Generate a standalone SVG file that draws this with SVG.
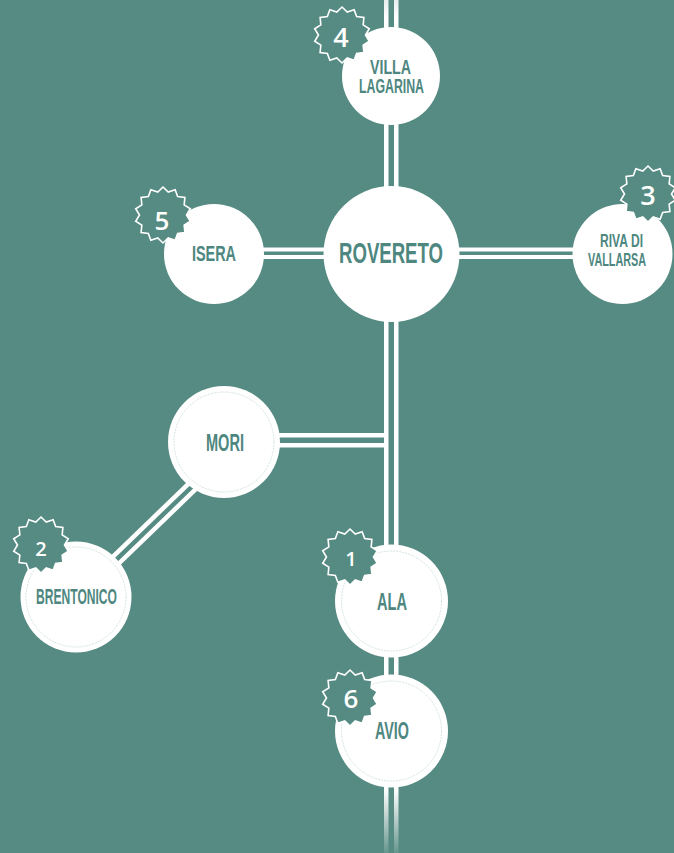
<svg xmlns="http://www.w3.org/2000/svg" width="674" height="853" viewBox="0 0 674 853">
<defs>
<linearGradient id="fade" gradientUnits="userSpaceOnUse" x1="0" y1="0" x2="0" y2="853">
<stop offset="0" stop-color="#fff" stop-opacity="0.85"/>
<stop offset="0.02" stop-color="#fff" stop-opacity="1"/>
<stop offset="0.925" stop-color="#fff" stop-opacity="1"/>
<stop offset="1" stop-color="#fff" stop-opacity="0.1"/>
</linearGradient>
<path id="star" d="M0,-28 L5.23,-22.91 L12.15,-25.23 L14.65,-18.37 L21.89,-17.46 L21.17,-10.2 L27.3,-6.23 L23.5,0 L27.3,6.23 L21.17,10.2 L21.89,17.46 L14.65,18.37 L12.15,25.23 L5.23,22.91 L0,28 L-5.23,22.91 L-12.15,25.23 L-14.65,18.37 L-21.89,17.46 L-21.17,10.2 L-27.3,6.23 L-23.5,0 L-27.3,-6.23 L-21.17,-10.2 L-21.89,-17.46 L-14.65,-18.37 L-12.15,-25.23 L-5.23,-22.91 Z"/>
</defs>
<style>
.bg{fill:#558b82}
.node{fill:#fff}
.inner{fill:none;stroke:#cfe1dd;stroke-width:0.9;stroke-dasharray:2 1}
.lbl{font-family:"Liberation Sans",Arial,sans-serif;font-weight:bold;fill:#4e877f}
.badge{fill:#558b82;stroke:#fff;stroke-width:1.6;stroke-linejoin:miter}
.num{font-family:"Open Sans","Liberation Sans",sans-serif;font-weight:600;fill:#fff;text-anchor:middle}
.wl{stroke:#fff;stroke-width:4.5;fill:none}
</style>
<rect class="bg" x="0" y="0" width="674" height="853"/>
<g id="connectors">
<rect x="384" y="0" width="4.5" height="853" fill="url(#fade)"/>
<rect x="394" y="0" width="4.5" height="853" fill="url(#fade)"/>
<rect x="260" y="247.5" width="70" height="4" fill="#fff"/>
<rect x="260" y="255" width="70" height="4" fill="#fff"/>
<rect x="455" y="247.5" width="125" height="4" fill="#fff"/>
<rect x="455" y="255" width="125" height="4" fill="#fff"/>
<rect x="270" y="433" width="114" height="4.5" fill="#fff"/>
<rect x="270" y="443" width="114" height="4.5" fill="#fff"/>
<line class="wl" x1="73.2" y1="595.1" x2="197.2" y2="475.3"/>
<line class="wl" x1="79.5" y1="601.5" x2="203.5" y2="481.7"/>
</g>
<g id="villa-lagarina">
<circle class="node" cx="391" cy="76" r="49"/>
<text class="lbl" x="370" y="74" font-size="19.5" textLength="41" lengthAdjust="spacingAndGlyphs">VILLA</text>
<text class="lbl" x="359" y="93" font-size="19.5" textLength="65" lengthAdjust="spacingAndGlyphs">LAGARINA</text>
<use href="#star" class="badge" transform="translate(342,35)"/>
<text class="num" x="341" y="47" font-size="27">4</text>
</g>
<g id="rovereto">
<circle class="node" cx="391.5" cy="254" r="68"/>
<text class="lbl" x="339" y="263" font-size="30" textLength="104" lengthAdjust="spacingAndGlyphs">ROVERETO</text>
</g>
<g id="isera">
<circle class="node" cx="214" cy="254" r="50"/>
<text class="lbl" x="192" y="261" font-size="22" textLength="44" lengthAdjust="spacingAndGlyphs">ISERA</text>
<use href="#star" class="badge" transform="translate(163,215)"/>
<text class="num" x="162" y="229.5" font-size="26">5</text>
</g>
<g id="riva-di-vallarsa">
<circle class="node" cx="622.5" cy="254" r="50"/>
<text class="lbl" x="600" y="247" font-size="18.5" textLength="43" lengthAdjust="spacingAndGlyphs">RIVA DI</text>
<text class="lbl" x="588" y="266" font-size="18.5" textLength="58" lengthAdjust="spacingAndGlyphs">VALLARSA</text>
<use href="#star" class="badge" transform="translate(648,194)"/>
<text class="num" x="648" y="205" font-size="27">3</text>
</g>
<g id="mori">
<circle class="node" cx="224" cy="442" r="56"/>
<circle class="inner" cx="224" cy="442" r="50"/>
<text class="lbl" x="206" y="451" font-size="23" textLength="38" lengthAdjust="spacingAndGlyphs">MORI</text>
</g>
<g id="brentonico">
<circle class="node" cx="76" cy="597" r="55.5"/>
<circle class="inner" cx="76" cy="597" r="50"/>
<text class="lbl" x="36" y="604" font-size="22" textLength="81" lengthAdjust="spacingAndGlyphs">BRENTONICO</text>
<use href="#star" class="badge" transform="translate(41,545)"/>
<text class="num" x="41" y="556" font-size="20">2</text>
</g>
<g id="ala">
<circle class="node" cx="391.5" cy="601" r="56.5"/>
<circle class="inner" cx="391.5" cy="601" r="50"/>
<text class="lbl" x="377" y="610" font-size="23" textLength="30" lengthAdjust="spacingAndGlyphs">ALA</text>
<use href="#star" class="badge" transform="translate(350,557)"/>
<text class="num" x="351" y="566" font-size="20">1</text>
</g>
<g id="avio">
<circle class="node" cx="391.5" cy="731" r="56.5"/>
<circle class="inner" cx="391.5" cy="731" r="50"/>
<text class="lbl" x="375" y="739" font-size="23" textLength="34" lengthAdjust="spacingAndGlyphs">AVIO</text>
<use href="#star" class="badge" transform="translate(350,698)"/>
<text class="num" x="351" y="708" font-size="26">6</text>
</g>
</svg>
